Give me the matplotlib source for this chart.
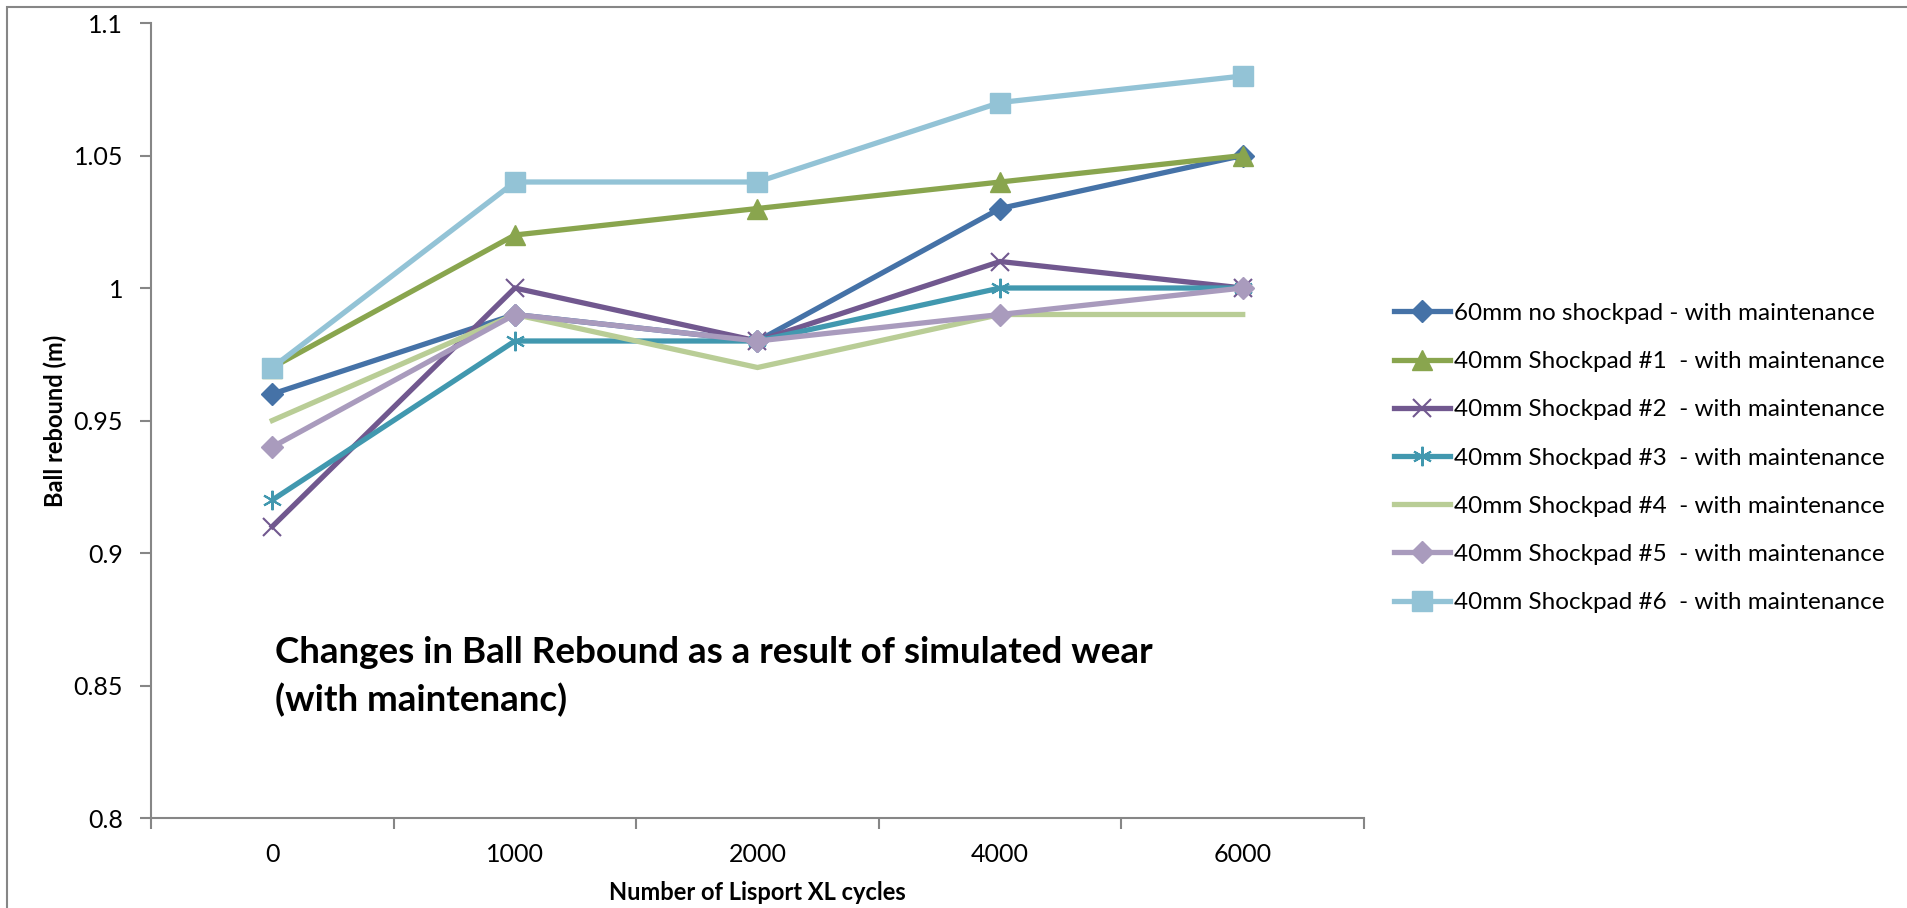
import matplotlib
matplotlib.use("Agg")
from matplotlib import pyplot as plt
from matplotlib.patches import Rectangle

plt.rcParams['font.family'] = ['Lato', 'DejaVu Sans']

# cycles on the x axis (treated as categories)
cycles = ["0", "1000", "2000", "4000", "6000"]

no_pad_60 = [0.96, 0.99, 0.98, 1.03, 1.05]
pad_1 = [0.97, 1.02, 1.03, 1.04, 1.05]
pad_2 = [0.91, 1.00, 0.98, 1.01, 1.00]
pad_3 = [0.92, 0.98, 0.98, 1.00, 1.00]
pad_4 = [0.95, 0.99, 0.97, 0.99, 0.99]
pad_5 = [0.94, 0.99, 0.98, 0.99, 1.00]
pad_6 = [0.97, 1.04, 1.04, 1.07, 1.08]

labels = ["60mm no shockpad - with maintenance",
          "40mm Shockpad #1  - with maintenance",
          "40mm Shockpad #2  - with maintenance",
          "40mm Shockpad #3  - with maintenance",
          "40mm Shockpad #4  - with maintenance",
          "40mm Shockpad #5  - with maintenance",
          "40mm Shockpad #6  - with maintenance"]

yticks = [0.8, 0.85, 0.9, 0.95, 1.0, 1.05, 1.1]
ytick_labels = ["0.8", "0.85", "0.9", "0.95", "1", "1.05", "1.1"]

# colour, marker, marker size, marker edge width
styles = [("#4572A7", "D", 11.5, 1),
          ("#89A54E", "^", 14.5, 1),
          ("#71588F", "x", 13, 1.5),
          ("#4198AF", (6, 2, 0), 14, 1.5),
          ("#B9CD96", None, 0, 0),
          ("#A99BBD", "D", 11.5, 1),
          ("#93C3D6", "s", 14.5, 1)]

fig = plt.figure(figsize=(19.08, 9.08), dpi=100)
ax = fig.add_axes([151 / 1908, 1 - 818 / 908, (1364 - 151) / 1908, (818 - 23) / 908])

# grey outer chart frame
fig.patches.append(Rectangle((7 / 1908, -0.1), 1.2, 1.1 - 7 / 908, transform=fig.transFigure,
                             fill=False, edgecolor="#868686", linewidth=1.5))

x = list(range(len(cycles)))
series = [no_pad_60, pad_1, pad_2, pad_3, pad_4, pad_5, pad_6]
for vals, lab, (col, mk, ms, mew) in zip(series, labels, styles):
    ax.plot(x, vals, color=col, linewidth=3.8, marker=mk, markersize=ms,
            markeredgewidth=mew, markeredgecolor=col, markerfacecolor=col,
            label=lab, solid_joinstyle="miter")

ax.set_xlim(-0.5, 4.5)
ax.set_ylim(0.8, 1.1)
ax.set_yticks(yticks)
ax.set_yticklabels(ytick_labels)

# category labels in the middle, tick marks between categories
ax.set_xticks([i - 0.5 for i in range(len(cycles) + 1)])
ax.set_xticklabels([])
ax.set_xticks(x, minor=True)
ax.set_xticklabels(cycles, minor=True)
ax.tick_params(axis="x", which="minor", length=0, pad=18, labelsize=18)
ax.tick_params(axis="x", which="major", length=8, width=1.5, color="#868686", direction="out")
ax.tick_params(axis="y", length=8, width=1.5, color="#868686", direction="out", pad=12, labelsize=18)

for s in ["top", "right"]:
    ax.spines[s].set_visible(False)
for s in ["left", "bottom"]:
    ax.spines[s].set_color("#868686")
    ax.spines[s].set_linewidth(1.5)

ax.set_ylabel("Ball rebound (m)", fontsize=17, fontweight="bold", va="center")
ax.yaxis.set_label_coords((55 - 151) / 1213, 0.5)
ax.set_xlabel("Number of Lisport XL cycles", fontsize=17, fontweight="bold", va="center")
ax.xaxis.set_label_coords(0.5, (818 - 893) / 795)

fig.text(275 / 1908, 1 - 636 / 908,
         "Changes in Ball Rebound as a result of simulated wear\n(with maintenanc)",
         fontsize=26.5, fontweight="bold", va="top", ha="left", linespacing=1.5)

ax.legend(loc="center left", bbox_to_anchor=(1394 / 1908, 1 - 458 / 908),
          bbox_transform=fig.transFigure, frameon=False, fontsize=17.5,
          handlelength=2.3, handletextpad=0.15, labelspacing=1.12, borderpad=0,
          borderaxespad=0)

fig.savefig("out.png", dpi=100)
